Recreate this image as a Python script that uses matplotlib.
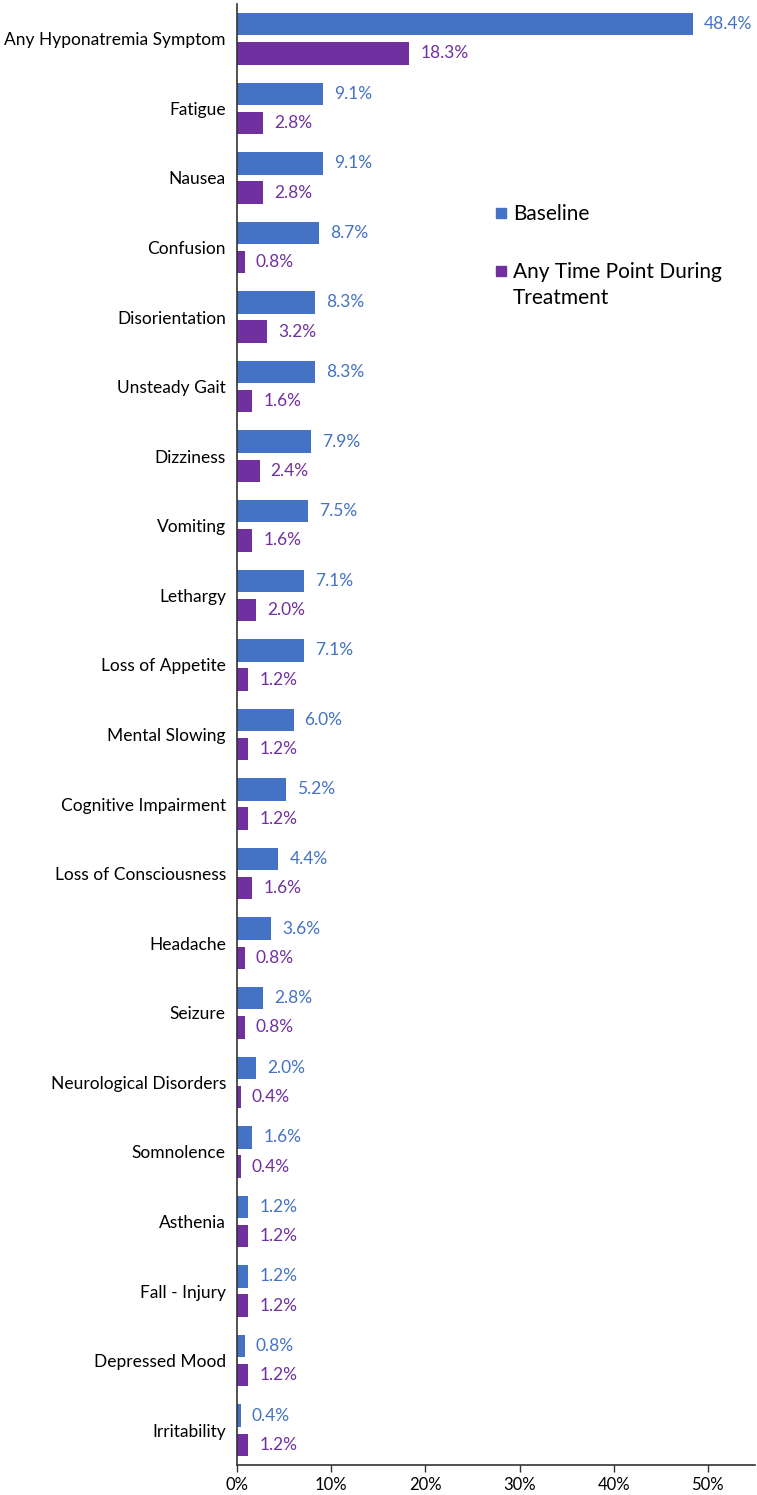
import numpy as np
import matplotlib.pyplot as plt
from matplotlib.lines import Line2D

plt.rcParams['font.family'] = ['Lato', 'DejaVu Sans']

symptoms = ["Any Hyponatremia Symptom", "Fatigue", "Nausea", "Confusion", "Disorientation",
            "Unsteady Gait", "Dizziness", "Vomiting", "Lethargy", "Loss of Appetite",
            "Mental Slowing", "Cognitive Impairment", "Loss of Consciousness", "Headache",
            "Seizure", "Neurological Disorders", "Somnolence", "Asthenia", "Fall - Injury",
            "Depressed Mood", "Irritability"]
baseline = [48.4, 9.1, 9.1, 8.7, 8.3, 8.3, 7.9, 7.5, 7.1, 7.1, 6.0, 5.2, 4.4, 3.6,
            2.8, 2.0, 1.6, 1.2, 1.2, 0.8, 0.4]
treatment = [18.3, 2.8, 2.8, 0.8, 3.2, 1.6, 2.4, 1.6, 2.0, 1.2, 1.2, 1.2, 1.6, 0.8,
             0.8, 0.4, 0.4, 1.2, 1.2, 1.2, 1.2]
xticks = [0, 10, 20, 30, 40, 50]

blue = "#4472C4"
purple = "#7030A0"

fig = plt.figure(figsize=(7.57, 14.95), dpi=100)
W, H = 757, 1495
ax = fig.add_axes([237 / W, 1 - 1465 / H, (755 - 237) / W, (1465 - 4) / H])

y = np.arange(len(symptoms))
h = 0.323
off = 0.21
ax.barh(y - off, baseline, height=h, color=blue)
ax.barh(y + off, treatment, height=h, color=purple)

for i in range(len(symptoms)):
    ax.annotate(f"{baseline[i]:.1f}%", (baseline[i], y[i] - off), xytext=(8, 0),
                textcoords="offset points", va="center", ha="left", fontsize=12.5, color=blue)
    ax.annotate(f"{treatment[i]:.1f}%", (treatment[i], y[i] + off), xytext=(8, 0),
                textcoords="offset points", va="center", ha="left", fontsize=12.5, color=purple)

ax.set_ylim(len(symptoms) - 0.5, -0.5)
ax.set_xlim(0, 55)
ax.set_yticks(y)
ax.set_yticklabels(symptoms, fontsize=12.5)
ax.set_xticks(xticks)
ax.set_xticklabels([f"{t}%" for t in xticks], fontsize=12)
ax.tick_params(axis="y", length=0, pad=8)
ax.tick_params(axis="x", length=5, width=1, color="#333333", pad=4)

for s in ["top", "right"]:
    ax.spines[s].set_visible(False)
for s in ["left", "bottom"]:
    ax.spines[s].set_color("#333333")
    ax.spines[s].set_linewidth(1.2)

# legend: the marker sits on the first line of the wrapped label, so the
# second line ("Treatment") is added as plain text under it
handles = [Line2D([], [], marker="s", color=blue, linestyle="none", markersize=7),
           Line2D([], [], marker="s", color=purple, linestyle="none", markersize=7)]
leg = ax.legend(handles, ["Baseline", "Any Time Point During"], loc="upper left",
                bbox_to_anchor=(484 / W, 1 - 194 / H), bbox_transform=fig.transFigure,
                frameon=False, fontsize=15, handlelength=0.6, handletextpad=0.3,
                labelspacing=1.8, borderpad=0)
fig.canvas.draw()
bb = leg.get_texts()[1].get_window_extent()
fig.text(bb.x0 / W, (bb.y0 - 26) / H, "Treatment", fontsize=15, ha="left", va="bottom")

fig.savefig("out.png", dpi=100)
